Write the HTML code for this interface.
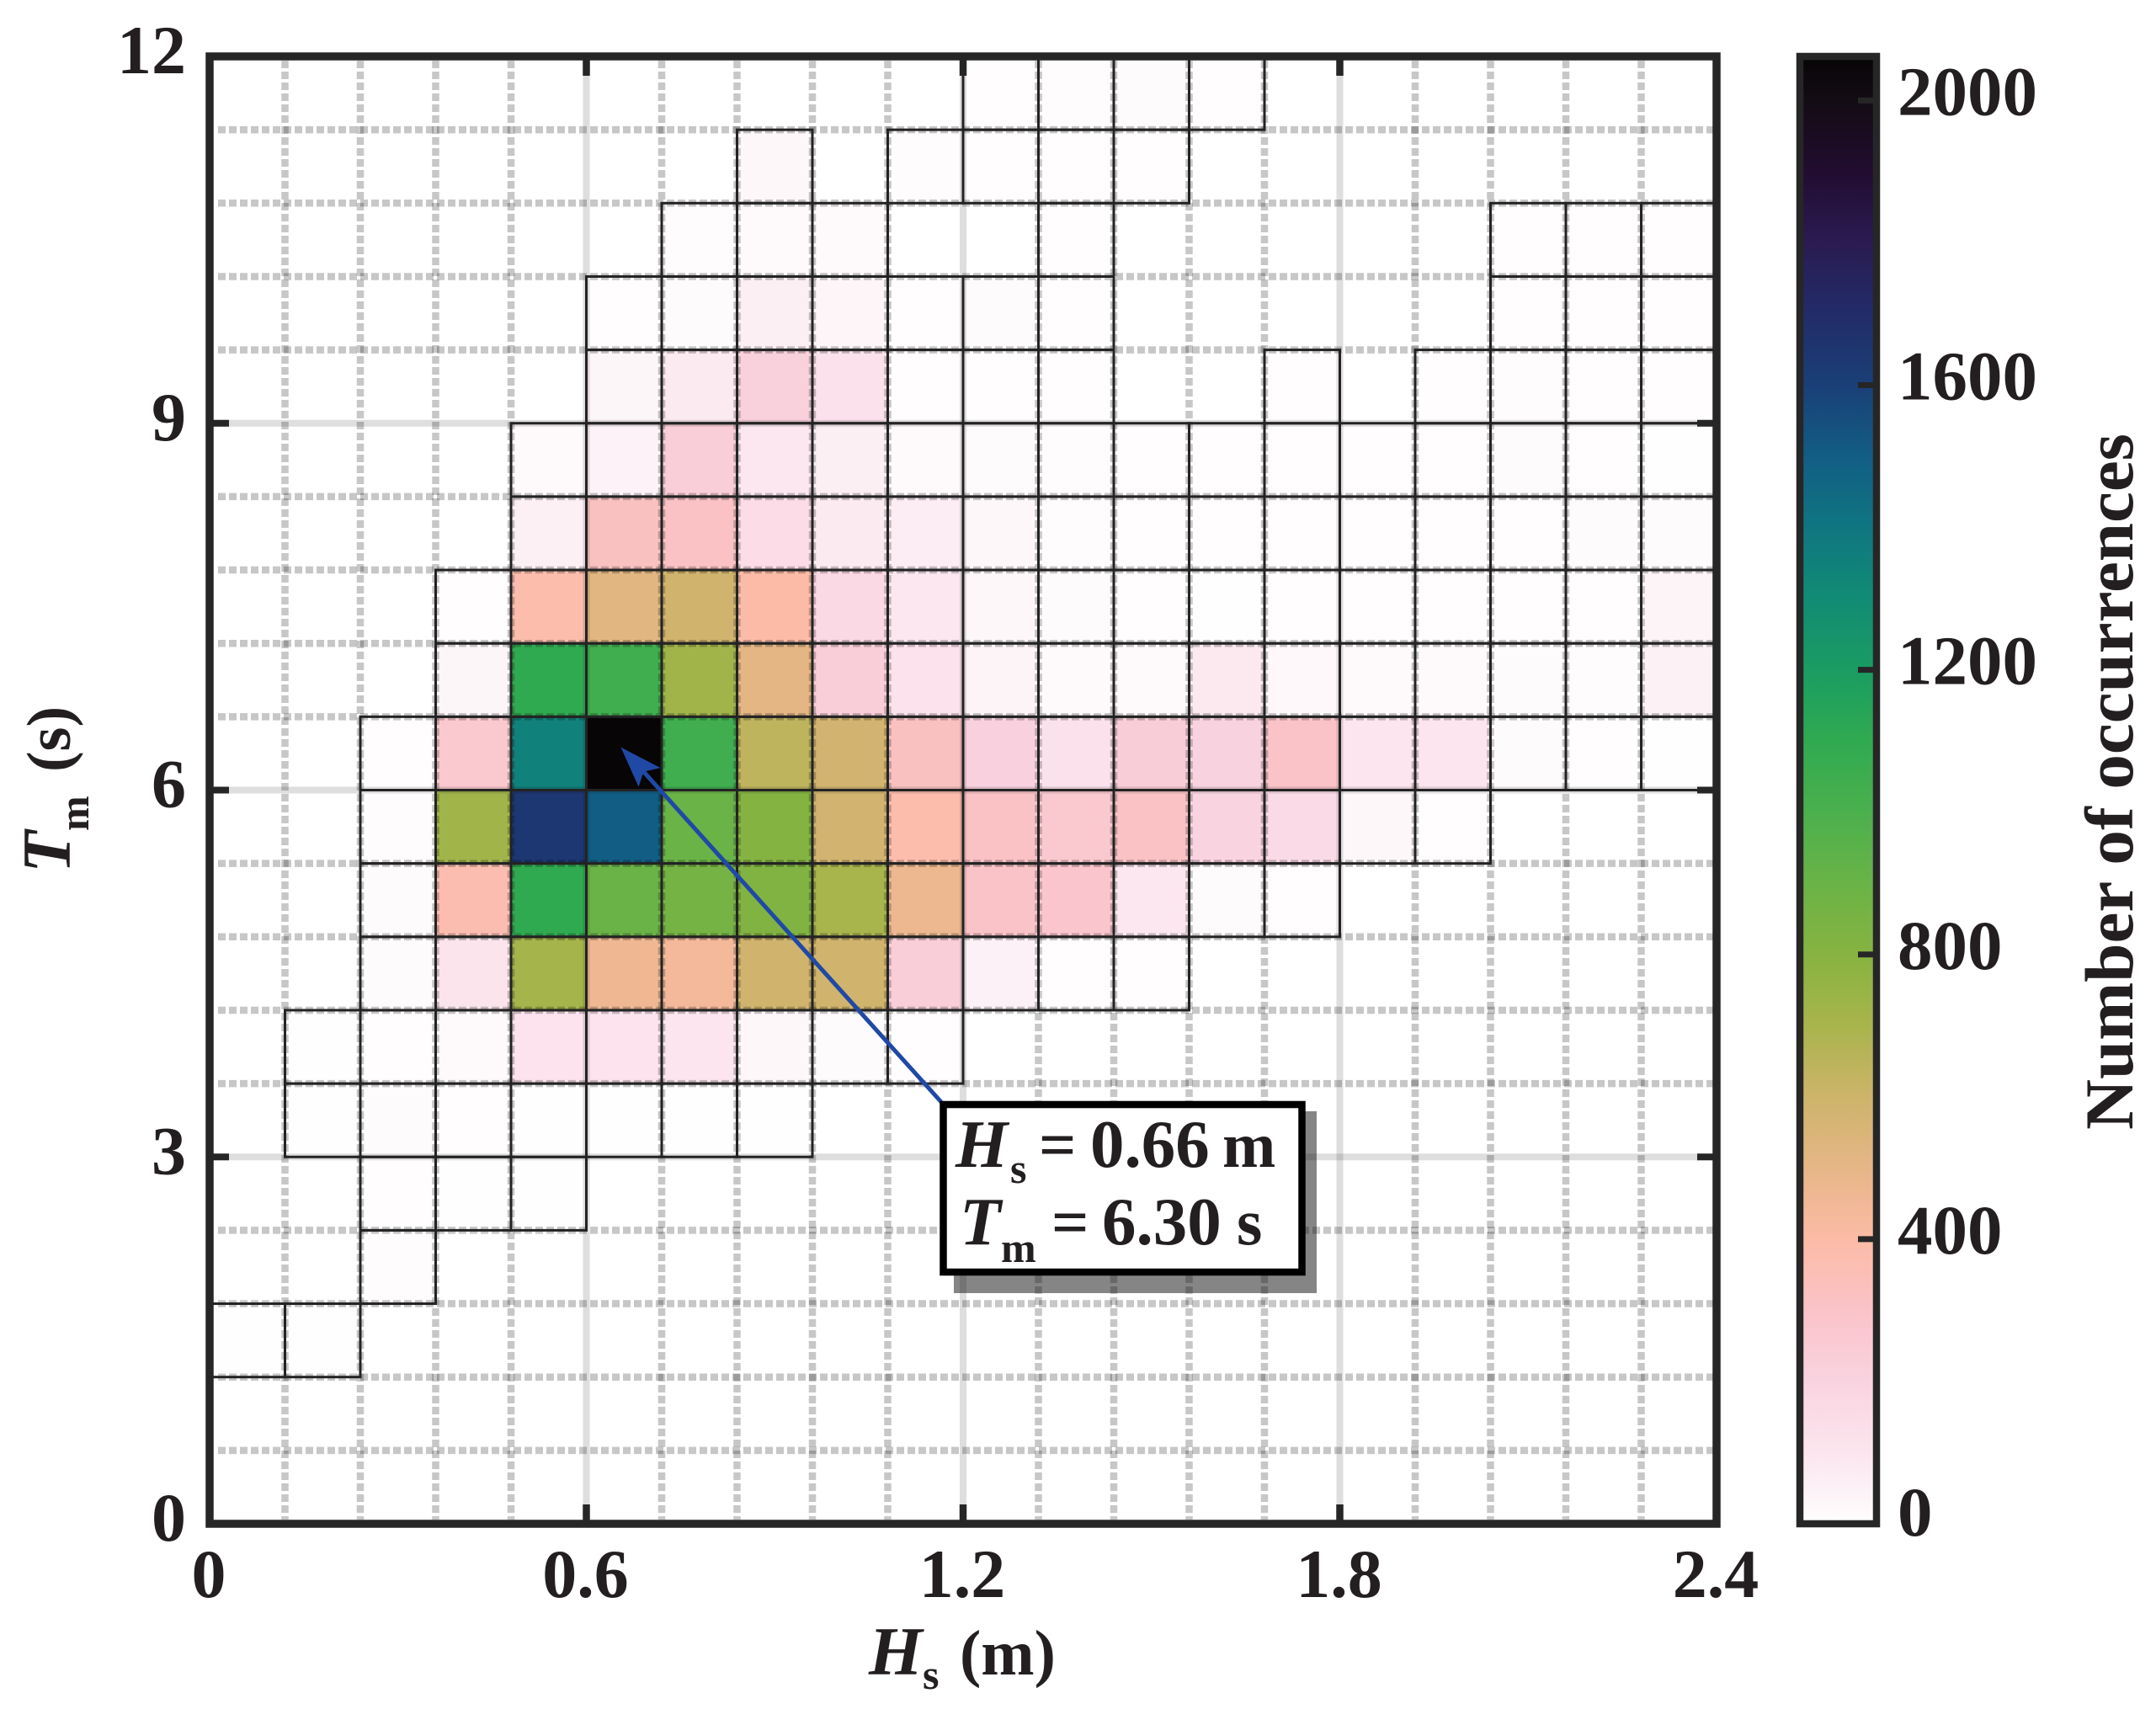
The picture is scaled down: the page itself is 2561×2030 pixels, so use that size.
<!DOCTYPE html>
<html lang="en">
<head>
<meta charset="utf-8">
<title>Occurrences of Hs and Tm</title>
<style>
  html, body { margin: 0; padding: 0; background: #fff; }
  svg { display: block; }
  text { font-family: "Liberation Serif", serif; font-weight: bold; fill: #231f20; }
  .it { font-style: italic; }
</style>
</head>
<body>
<svg id="chart" xmlns="http://www.w3.org/2000/svg" width="2561" height="2030" viewBox="0 0 2561 2030">
  <defs>
    <linearGradient id="cbar-gradient" gradientUnits="userSpaceOnUse" x1="0" y1="1810" x2="0" y2="67"></linearGradient>
  </defs>
  <rect x="0" y="0" width="2561" height="2030" fill="#fff"/>
  <g id="grid"></g>
  <g id="cells"></g>
  <g id="edges"></g>
  <g id="ticks"></g>
  <rect x="249" y="67" width="1790" height="1743" fill="none" stroke="#262626" stroke-width="9.5"/>
  <g id="tick-labels" font-size="82"></g>

  <g>
    <text class="it" x="1032" y="1989" font-size="82">H</text>
    <text x="1096" y="2006" font-size="50">s</text>
    <text x="1140" y="1989" font-size="76">(m)</text>
  </g>
  <g>
    <text class="it" transform="translate(83 1037) rotate(-90)" font-size="82">T</text>
    <text transform="translate(105 987) rotate(-90)" font-size="50">m</text>
    <text transform="translate(83 917) rotate(-90)" font-size="74">(s)</text>
  </g>

  <g id="annotation">
    <line id="arrow-line" stroke="#2049a6" stroke-width="5"/>
    <polygon id="arrow-head" fill="#2049a6"/>
    <rect x="1133" y="1320" width="431" height="216" fill="#858585" style="mix-blend-mode:multiply"/>
    <rect x="1120.5" y="1312" width="426" height="199" fill="#fff" stroke="#000" stroke-width="8.5"/>
    <g>
      <text class="it" x="1135" y="1386" font-size="80">H</text>
      <text x="1200" y="1405" font-size="50">s</text>
      <text x="1234" y="1386" font-size="78">=</text>
      <text x="1295" y="1386" font-size="81">0.66</text>
      <text x="1452" y="1386" font-size="76">m</text>
    </g>
    <g>
      <text class="it" x="1140" y="1478" font-size="80">T</text>
      <text x="1189" y="1499" font-size="50">m</text>
      <text x="1249" y="1478" font-size="78">=</text>
      <text x="1309" y="1478" font-size="81">6.30</text>
      <text x="1469" y="1478" font-size="78">s</text>
    </g>
  </g>

  <g>
    <rect x="2138" y="67" width="91" height="1743" fill="url(#cbar-gradient)"/>
    <g id="cbar-ticks"></g>
    <rect x="2138" y="67" width="91" height="1743" fill="none" stroke="#262626" stroke-width="8.5"/>
    <g id="cbar-labels" font-size="83"></g>
    <text transform="translate(2533 1342) rotate(-90)" font-size="82" textLength="827" lengthAdjust="spacingAndGlyphs">Number of occurrences</text>
  </g>
</svg>

<script>
// Occurrence counts per Tm bin (row) and Hs bin (column); _ = bin without observations.
const _ = null;
const row00 = [_,_,_,_,_,_,_,_,_,_,_,_,_,_,_,_,_,_,_,_];
const row01 = [_,_,_,_,_,_,_,_,_,_,_,_,_,_,_,_,_,_,_,_];
const row02 = [1,1,_,_,_,_,_,_,_,_,_,_,_,_,_,_,_,_,_,_];
const row03 = [_,_,6,_,_,_,_,_,_,_,_,_,_,_,_,_,_,_,_,_];
const row04 = [_,_,4,1,1,_,_,_,_,_,_,_,_,_,_,_,_,_,_,_];
const row05 = [_,1,12,2,1,1,1,1,_,_,_,_,_,_,_,_,_,_,_,_];
const row06 = [_,1,3,16,110,110,100,26,10,2,_,_,_,_,_,_,_,_,_,_];
const row07 = [_,_,13,105,710,460,440,590,590,230,50,2,2,_,_,_,_,_,_,_];
const row08 = [_,_,13,370,1100,900,860,820,700,470,300,285,90,13,2,_,_,_,_,_];
const row09 = [_,_,8,720,1640,1500,900,810,580,380,310,265,310,200,160,26,2,_,_,_];
const row10 = [_,_,2,270,1350,2062,1040,640,580,320,210,120,235,205,300,100,100,12,2,1];
const row11 = [_,_,_,32,1100,1040,720,510,230,115,40,18,18,85,22,20,20,13,8,48];
const row12 = [_,_,_,3,380,520,590,400,170,90,26,12,2,0,2,2,2,2,2,38];
const row13 = [_,_,_,_,55,320,310,150,80,70,26,6,2,2,2,2,2,3,12,11];
const row14 = [_,_,_,_,16,45,230,90,60,16,13,6,2,2,4,2,3,10,3,1];
const row15 = [_,_,_,_,_,32,80,215,120,2,2,3,_,_,2,_,2,6,3,2];
const row16 = [_,_,_,_,_,3,12,60,36,5,13,3,_,_,_,_,_,2,2,2];
const row17 = [_,_,_,_,_,_,8,15,15,_,_,2,_,_,_,_,_,2,2,2];
const row18 = [_,_,_,_,_,_,_,26,_,8,3,2,3,_,_,_,_,_,_,_];
const row19 = [_,_,_,_,_,_,_,_,_,_,3,8,13,3,_,_,_,_,_,_];
const countRows = [row00,row01,row02,row03,row04,row05,row06,row07,row08,row09,
                   row10,row11,row12,row13,row14,row15,row16,row17,row18,row19];

const hsBinWidth = 0.12;
const tmBinWidth = 0.6;
const hsTicks = [0, 0.6, 1.2, 1.8, 2.4];
const hsTickLabels = ["0", "0.6", "1.2", "1.8", "2.4"];
const tmTicks = [0, 3, 6, 9, 12];
const tmTickLabels = ["0", "3", "6", "9", "12"];
const cbarTicks = [0, 400, 800, 1200, 1600, 2000];
const cbarTickLabels = ["0", "400", "800", "1200", "1600", "2000"];
const cbarMax = 2062;
const peakPoint = [0.655, 6.35];

const cmapValues = [0,50,100,200,300,400,500,600,700,800,900,1000,1100,1200,1300,1400,1500,1600,1700,1800,1900,2000,2062];
const cmapColors = ["#fffefe","#fcf1f6","#fce5ee","#f9d3e0","#fac3c8","#fcbba6","#e6b687","#cdb46a","#a8b44c","#87b341","#6ab347","#4bb04d","#30aa51","#1a9c62","#128b74","#0f7681","#125d84","#1a3f78","#222c68","#2a1b52","#220c30","#130c14","#070506"];

const NS = "http://www.w3.org/2000/svg";
const frame = { left: 249, right: 2039, top: 67, bottom: 1810 };
function xScale(v) { return frame.left + v * (frame.right - frame.left) / 2.4; }
function yScale(v) { return frame.bottom - v * (frame.bottom - frame.top) / 12; }
function cScale(v) { return frame.bottom - v * (frame.bottom - frame.top) / cbarMax; }

function hexToRgb(h) {
  return [parseInt(h.slice(1,3),16), parseInt(h.slice(3,5),16), parseInt(h.slice(5,7),16)];
}
function colorFor(v) {
  if (v <= cmapValues[0]) return cmapColors[0];
  for (let i = 1; i < cmapValues.length; i++) {
    if (v <= cmapValues[i]) {
      const t = (v - cmapValues[i-1]) / (cmapValues[i] - cmapValues[i-1]);
      const a = hexToRgb(cmapColors[i-1]), b = hexToRgb(cmapColors[i]);
      return "rgb(" + a.map((c, k) => Math.round(c + (b[k] - c) * t)).join(",") + ")";
    }
  }
  return cmapColors[cmapColors.length - 1];
}
function make(parentId, tag, attrs) {
  const el = document.createElementNS(NS, tag);
  for (const k in attrs) el.setAttribute(k, attrs[k]);
  document.getElementById(parentId).appendChild(el);
  return el;
}

// Grid
const hsBinCount = Math.round(2.4 / hsBinWidth);
const tmBinCount = Math.round(12 / tmBinWidth);
for (let i = 1; i < hsBinCount; i++) {
  const major = i % 5 === 0;
  const x = xScale(i * hsBinWidth);
  const el = make("grid", "line", major
    ? { x1: x, x2: x, y1: frame.top + 5, y2: frame.bottom - 5, stroke: "#000", "stroke-opacity": 0.13, "stroke-width": 8 }
    : { x1: x, x2: x, y1: frame.top + 5, y2: frame.bottom - 5, stroke: "#000", "stroke-opacity": 0.22, "stroke-width": 8.5, "stroke-dasharray": "9 4" });
  
  
}
for (let i = 1; i < tmBinCount; i++) {
  const major = i % 5 === 0;
  const y = yScale(i * tmBinWidth);
  const el = make("grid", "line", major
    ? { x1: frame.left + 5, x2: frame.right - 5, y1: y, y2: y, stroke: "#000", "stroke-opacity": 0.13, "stroke-width": 8 }
    : { x1: frame.left + 10, x2: frame.right - 4, y1: y, y2: y, stroke: "#000", "stroke-opacity": 0.22, "stroke-width": 8.5, "stroke-dasharray": "9 4" });
  
  
}

// Heatmap cells
countRows.forEach((row, r) => {
  row.forEach((value, c) => {
    if (value === null) return;
    const x0 = xScale(c * hsBinWidth), x1 = xScale((c + 1) * hsBinWidth);
    const y1 = yScale(r * tmBinWidth), y0 = yScale((r + 1) * tmBinWidth);
    const cell = make("cells", "rect", { x: x0, y: y0, width: x1 - x0, height: y1 - y0, fill: colorFor(value), style: "mix-blend-mode:multiply" });
    
    
    const edge = make("edges", "rect", { x: x0, y: y0, width: x1 - x0, height: y1 - y0, fill: "none", stroke: "#232323", "stroke-width": 3 });
    
    
  });
});

// Axis ticks and labels
const tickLen = 23;
hsTicks.forEach((v, i) => {
  const x = xScale(v);
  if (v > 0 && v < 2.4) {
    const bottom = make("ticks", "line", { x1: x, x2: x, y1: frame.bottom, y2: frame.bottom - tickLen, stroke: "#262626", "stroke-width": 8.5 });
    
    
    const top = make("ticks", "line", { x1: x, x2: x, y1: frame.top, y2: frame.top + tickLen, stroke: "#262626", "stroke-width": 8.5 });
    
    
  }
  const label = make("tick-labels", "text", { x: x - 1, y: 1897, "text-anchor": "middle" });
  
  
  label.textContent = hsTickLabels[i];
});
tmTicks.forEach((v, i) => {
  const y = yScale(v);
  if (v > 0 && v < 12) {
    const left = make("ticks", "line", { x1: frame.left, x2: frame.left + tickLen, y1: y, y2: y, stroke: "#262626", "stroke-width": 8 });
    
    
    const right = make("ticks", "line", { x1: frame.right, x2: frame.right - tickLen, y1: y, y2: y, stroke: "#262626", "stroke-width": 8 });
    
    
  }
  const label = make("tick-labels", "text", { x: 221, y: y + 20, "text-anchor": "end" });
  
  
  label.textContent = tmTickLabels[i];
});

// Colorbar
const gradient = document.getElementById("cbar-gradient");
cmapValues.forEach((v, i) => {
  const stop = document.createElementNS(NS, "stop");
  stop.setAttribute("offset", v / cbarMax);
  stop.setAttribute("stop-color", cmapColors[i]);
  gradient.appendChild(stop);
});
cbarTicks.forEach((v, i) => {
  const y = cScale(v);
  if (v > 0) {
    const tick = make("cbar-ticks", "line", { x1: 2207, x2: 2226, y1: y, y2: y, stroke: "#262626", "stroke-width": 7 });
    
    
  }
  const label = make("cbar-labels", "text", { x: 2254, y: Math.min(y + 17, 1824) });
  
  
  label.textContent = cbarTickLabels[i];
});

// Annotation arrow aimed at the peak bin
const tipX = xScale(peakPoint[0]);
const tipY = yScale(peakPoint[1]);
const arrowLine = document.getElementById("arrow-line");
arrowLine.setAttribute("x1", 1118);
arrowLine.setAttribute("y1", 1309);
arrowLine.setAttribute("x2", tipX + 27);
arrowLine.setAttribute("y2", tipY + 29);
document.getElementById("arrow-head").setAttribute("points",
  [[0,0],[47,24.5],[27,29],[21,47]].map(p => (tipX + p[0]) + "," + (tipY + p[1])).join(" "));
</script>
</body>
</html>
